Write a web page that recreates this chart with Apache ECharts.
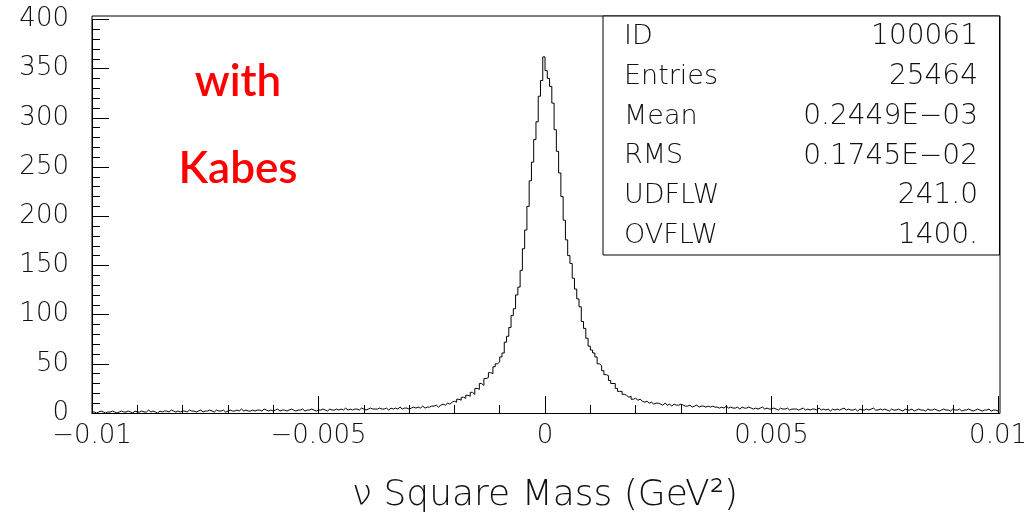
<!DOCTYPE html>
<html>
<head>
<meta charset="utf-8">
<script src="https://cdn.jsdelivr.net/npm/echarts@6/dist/echarts.min.js"></script>
<style>
html,body{margin:0;padding:0;background:#fff;}
#chart{width:1030px;height:519px;}
</style>
</head>
<body>
<div id="chart"></div>
<script>
// ---- data ----
const xMin = -0.01;
const xMax = 0.01;
const binWidth = 0.00005;
const counts = [
 1,0,1,2,1,0,1,1,2,1, 0,1,2,1,1,2,1,0,2,1, 1,2,1,1,3,1,2,1,0,2, 1,2,2,1,3,2,1,2,1,2, 2,1,3,2,2,1,2,3,1,2,
 2,3,2,1,3,2,2,3,1,2, 3,2,2,3,2,4,2,3,2,2, 3,2,3,3,2,4,3,2,3,2, 3,4,2,3,3,2,3,4,3,2, 3,3,4,2,3,3,4,3,2,3,
 3,4,3,2,4,3,3,4,3,4, 3,5,3,4,3,4,4,3,5,4, 3,4,5,4,4,
 4,5,4,4,5,3,5,4,5,4, 6,4,5,5,4,
 5,6,5,6,5,7,5,6,6,7,
 7,8,6,8,9,
 8,10,9,11,12,
 11,14,13,16,15,
 18,17,21,19,25,24,30,28,35,36,41,40,47,50,52,57,61,72,78,87,99,106,120,128,145,167,186,210,236,255,278,296,322,338,362,
 348,340,332,315,288,266,244,220,196,176,160,152,137,126,116,108,93,86,76,68,64,61,57,50,48,43,39,38,33,30,30,25,22,22,19,
 18,16,17,14,15,13,14,12,11,12,10,11,9,10,10,
 9,8,10,8,9,7,9,8,8,9,
 8,7,7,8,6,7,8,6,7,7,6,7,6,7,6,
 6,5,6,5,7,5,6,5,5,6,4,6,5,5,6,
 5,4,5,4,5,6,4,5,4,4, 5,4,3,5,4,4,5,3,4,4,
 4,3,4,5,3,4,3,4,4,3, 5,3,4,3,4,2,4,3,4,3, 4,5,3,4,3,3,4,2,4,3, 3,4,3,4,5,3,3,4,3,4, 3,2,4,3,
 3,4,3,2,4,3,3,4,2,3, 4,3,3,2,4,3,3,4,3,2, 3,4,3,3,2,4,3,3,4,2, 3,3,4,3,2,3,4,3,2,3, 3,4,2,3,3,2
];
const xTickValues = [-0.01, -0.005, 0, 0.005, 0.01];
const xTickLabels = ['\u22120.01', '\u22120.005', '0', '0.005', '0.01'];
const yTickLabels = ['0','50','100','150','200','250','300','350','400'];
const xAxisTitle = '\u03bd Square Mass (GeV\u00b2)';
const statNames = ['ID', 'Entries', 'Mean', 'RMS', 'UDFLW', 'OVFLW'];
const statValues = ['100061', '25464', '0.2449E\u221203', '0.1745E\u221202', '241.0', '1400.'];
const noteLines = ['with', 'Kabes'];

// ---- build ----
const histData = counts.map((c, i) => [xMin + i * binWidth, c]);
histData.push([xMax, counts[counts.length - 1]]);

const FF = "'DejaVu Sans', sans-serif";
const chart = echarts.init(document.getElementById('chart'), null, {renderer: 'canvas'});

const graphics = [];
// frame
graphics.push({type: 'rect', shape: {x: 92, y: 16, width: 908, height: 397.5}, style: {fill: 'none', stroke: '#000', lineWidth: 1}, z: 10, silent: true});
// stats box
graphics.push({type: 'rect', shape: {x: 603, y: 16, width: 396.5, height: 239}, style: {fill: '#fff', stroke: '#000', lineWidth: 1}, z: 11, silent: true});
statNames.forEach((n, i) => {
  const y = 37 + i * 39.8;
  graphics.push({type: 'text', z: 12, silent: true, style: {text: n, x: 624, y: y, font: "200 27px " + FF, fill: '#111', align: 'left', verticalAlign: 'middle', textAlign: 'left', textVerticalAlign: 'middle'}});
  graphics.push({type: 'text', z: 12, silent: true, style: {text: statValues[i], x: 978, y: y, font: "200 28px " + FF, fill: '#111', align: 'right', verticalAlign: 'middle', textAlign: 'right', textVerticalAlign: 'middle'}});
});
// red note
noteLines.forEach((t, i) => {
  graphics.push({type: 'text', z: 12, silent: true, style: {text: t, x: 238, y: i === 0 ? 82 : 169, font: "600 44px 'Comic Sans MS', Lato, sans-serif", fill: '#ff0000', align: 'center', verticalAlign: 'middle', textAlign: 'center', textVerticalAlign: 'middle'}});
});

const option = {
  animation: false,
  backgroundColor: '#fff',
  grid: {left: 92, right: 30, top: 19.5, bottom: 105.5, show: false},
  xAxis: {
    type: 'value', min: xMin, max: xMax, interval: 0.005,
    axisLine: {show: true, onZero: false, lineStyle: {color: '#000', width: 1}},
    axisTick: {show: true, inside: true, length: 17, lineStyle: {color: '#000', width: 1}},
    minorTick: {show: true, splitNumber: 5, length: 8, lineStyle: {color: '#000', width: 1}},
    splitLine: {show: false},
    axisLabel: {
      margin: 10, fontSize: 26, fontFamily: FF, fontWeight: 200, color: '#111',
      showMinLabel: true, showMaxLabel: true,
      formatter: function (v) {
        const idx = xTickValues.findIndex(t => Math.abs(t - v) < 1e-9);
        return idx >= 0 ? xTickLabels[idx] : '';
      }
    },
    name: xAxisTitle, nameLocation: 'middle', nameGap: 65,
    nameTextStyle: {fontSize: 36, fontFamily: FF, fontWeight: 200, color: '#111'}
  },
  yAxis: {
    type: 'value', min: 0, max: 400, interval: 50,
    axisLine: {show: true, onZero: false, lineStyle: {color: '#000', width: 1}},
    axisTick: {show: true, inside: true, length: 17, lineStyle: {color: '#000', width: 1}},
    minorTick: {show: true, splitNumber: 5, length: 8, lineStyle: {color: '#000', width: 1}},
    splitLine: {show: false},
    axisLabel: {
      margin: 23, fontSize: 26, fontFamily: FF, fontWeight: 200, color: '#111',
      formatter: function (v) { return yTickLabels[Math.round(v / 50)] || ''; }
    }
  },
  series: [{
    type: 'line', step: 'end', data: histData, showSymbol: false, symbol: 'none',
    lineStyle: {color: '#000', width: 1}, clip: true
  }],
  graphic: graphics
};
chart.setOption(option);
</script>
</body>
</html>
